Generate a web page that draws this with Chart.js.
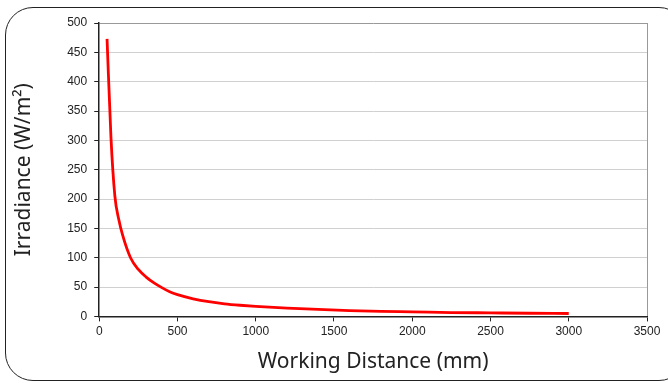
<!DOCTYPE html>
<html>
<head>
<meta charset="utf-8">
<script src="https://cdn.jsdelivr.net/npm/chart.js@4.4.1/dist/chart.umd.min.js"></script>
<style>
  html, body { margin: 0; padding: 0; background: #fff; overflow: hidden; }
  #wrap { position: relative; width: 668px; height: 383px; overflow: hidden; }
  #frame {
    position: absolute; left: 5px; top: 7px; width: 682px; height: 374px;
    border: 1.3px solid #222; border-radius: 28px; box-sizing: border-box;
    pointer-events: none;
  }
</style>
</head>
<body>
<div id="wrap">
  <canvas id="chart" width="668" height="383"></canvas>
  <div id="frame"></div>
</div>
<script>
"use strict";

/* ── Data ────────────────────────────────────────────────────────────── */
const distance   = [50, 75, 100, 125, 150, 200, 250, 300, 350, 400, 450, 500, 600, 700, 800,
                    900, 1000, 1200, 1400, 1600, 1800, 2000, 2250, 2500, 2750, 3000];
const irradiance = [473, 305, 205, 165, 138, 100, 80, 67, 57, 49, 42, 37, 30, 25, 21.5,
                    19, 17, 14, 11.8, 10, 8.6, 7.8, 6.6, 6.0, 5.4, 4.9];
const xTicks = [0, 500, 1000, 1500, 2000, 2500, 3000, 3500];
const yTicks = [0, 50, 100, 150, 200, 250, 300, 350, 400, 450, 500];

const AXIS = "#222";
const TICK_FONT = { family: "'Liberation Sans', Arial, sans-serif", size: 12 };
const TITLE_FONT = { family: "'Noto Sans', 'Open Sans', sans-serif", size: 21 };

new Chart(document.getElementById("chart").getContext("2d"), {
  type: "line",
  data: {
    datasets: [{
      data: distance.map((d, i) => ({ x: d, y: irradiance[i] })),
      borderColor: "#ff0000", borderWidth: 2.8,
      pointRadius: 0, fill: false, cubicInterpolationMode: "monotone",
    }],
  },
  options: {
    responsive: false, animation: false,
    layout: { padding: { top: 23, right: 21, left: 11, bottom: 8 } },
    plugins: { legend: { display: false }, tooltip: { enabled: false } },
    scales: {
      x: {
        type: "linear", min: 0, max: 3500,
        afterBuildTicks: (axis) => { axis.ticks = xTicks.map(v => ({ value: v })); },
        grid: {
          color: (c) => c.tick && c.tick.value === 3500 ? "#999" : "transparent",
          tickColor: AXIS, tickLength: 5, drawOnChartArea: true,
        },
        border: { color: AXIS, width: 1.5 },
        ticks: { color: "#222", font: TICK_FONT, padding: 3, maxRotation: 0,
                 callback: (v) => String(v) },
        title: { display: true, text: "Working Distance (mm)", color: "#222",
                 font: TITLE_FONT, padding: { top: 8, bottom: 0 } },
      },
      y: {
        min: 0, max: 500,
        afterBuildTicks: (axis) => { axis.ticks = yTicks.map(v => ({ value: v })); },
        grid: {
          color: (c) => c.tick && c.tick.value === 500 ? "#999" : "#d0d0d0",
          tickColor: AXIS, tickLength: 5,
        },
        border: { color: AXIS, width: 1.5 },
        ticks: { color: "#222", font: TICK_FONT, padding: 7, callback: (v) => String(v) },
        title: { display: true, text: "Irradiance (W/m²)", color: "#222",
                 font: TITLE_FONT, padding: { top: 0, bottom: 24 } },
      },
    },
  },
});
</script>
</body>
</html>
